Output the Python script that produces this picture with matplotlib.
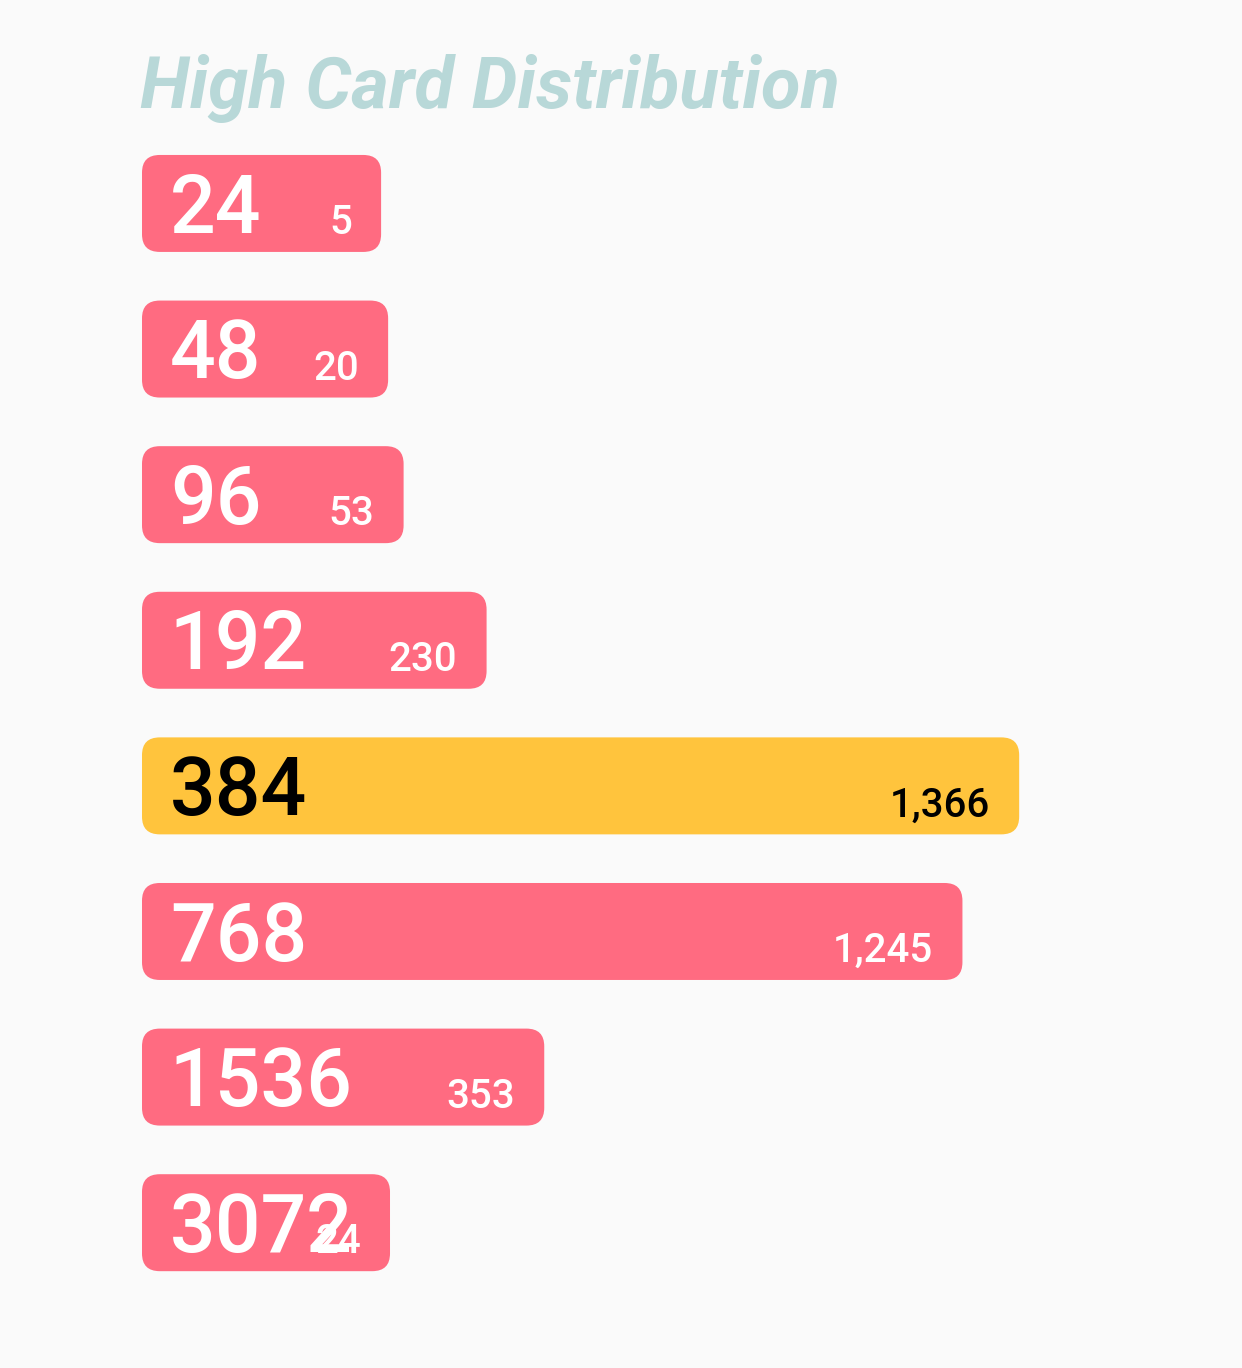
import matplotlib
matplotlib.use("Agg")
import matplotlib.pyplot as plt
from matplotlib.patches import FancyBboxPatch

# data
categories = ["24", "48", "96", "192", "384", "768", "1536", "3072"]
counts = [5, 20, 53, 230, 1366, 1245, 353, 24]
highlight = "384"

bg = "#fafafa"
pink = "#ff6b81"
yellow = "#ffc43d"
title_col = "#b8d8d8"
base = 505  # bars start left of zero so small values stay readable

fig = plt.figure(figsize=(12.42, 13.68), dpi=100, facecolor=bg)
ax = fig.add_axes([142 / 1242, 0.053, 1000 / 1242, 0.8515])
ax.set_facecolor(bg)

colors = [yellow if c == highlight else pink for c in categories]
bars = ax.barh(range(len(categories)), [v + base for v in counts], left=-base,
               height=0.666, color=colors)

ax.set_xlim(-base, 1628)
ax.set_ylim(7.5, -0.5)
ax.axis("off")

# swap the square bars for rounded ones
for b, col in zip(bars, colors):
    b.set_visible(False)
    ax.add_patch(FancyBboxPatch((b.get_x(), b.get_y()), b.get_width(), b.get_height(),
                                boxstyle="round,pad=0,rounding_size=38",
                                mutation_aspect=0.0032, fc=col, ec="none"))

fam = ["Roboto", "DejaVu Sans"]
for i, (cat, v) in enumerate(zip(categories, counts)):
    tc = "black" if cat == highlight else "white"
    ax.annotate(cat, (-base, i), xytext=(20, -21), textcoords="offset points",
                ha="left", va="baseline", fontsize=58, color=tc, family=fam,
                fontweight="medium")
    ax.annotate(f"{v:,}", (v, i), xytext=(-21, -22), textcoords="offset points",
                ha="right", va="baseline", fontsize=29, color=tc, family=fam,
                fontweight="medium")

fig.text(140 / 1242, 1 - 108 / 1368, "High Card Distribution", ha="left", va="baseline",
         fontsize=52, color=title_col, family=fam, fontweight="bold", fontstyle="italic")

fig.savefig("out.png", dpi=100, facecolor=bg)
